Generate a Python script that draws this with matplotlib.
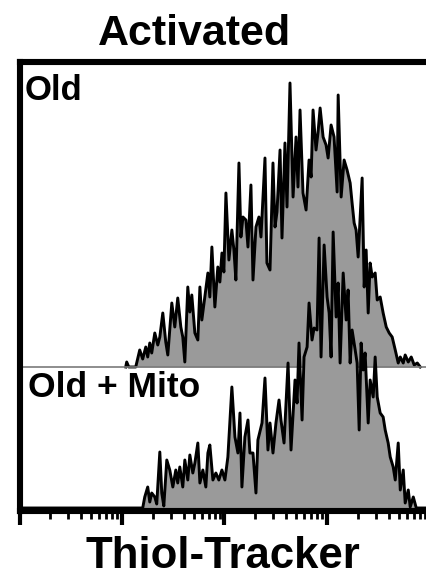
import numpy as np
import matplotlib
matplotlib.use("Agg")
import matplotlib.pyplot as plt
from matplotlib.ticker import LogLocator, NullFormatter

plt.rcParams['font.family'] = ['Liberation Sans', 'DejaVu Sans']

# Thiol-Tracker intensity (log10) and event counts, "Old" sample
old_log = [1.036, 1.046, 1.066, 1.134, 1.173, 1.202, 1.232, 1.251, 1.271, 1.290,
           1.320, 1.349, 1.369, 1.398, 1.427, 1.447, 1.486, 1.515, 1.544, 1.574,
           1.593, 1.613, 1.642, 1.662, 1.681, 1.711, 1.740, 1.760, 1.779, 1.808,
           1.838, 1.857, 1.877, 1.906, 1.935, 1.955, 1.975, 1.994, 2.014, 2.043,
           2.072, 2.092, 2.111, 2.141, 2.160, 2.180, 2.209, 2.229, 2.258, 2.278,
           2.307, 2.336, 2.356, 2.395, 2.414, 2.444, 2.473, 2.493, 2.512, 2.542,
           2.561, 2.590, 2.610, 2.639, 2.669, 2.698, 2.717, 2.737, 2.766, 2.796,
           2.825, 2.845, 2.864, 2.893, 2.913, 2.933, 2.962, 2.991, 3.011, 3.040,
           3.069, 3.099, 3.109, 3.138, 3.167, 3.196, 3.226, 3.245, 3.265, 3.284,
           3.304, 3.343, 3.363, 3.382, 3.402, 3.421, 3.441, 3.470, 3.490, 3.519,
           3.548, 3.578, 3.607, 3.636, 3.666, 3.695, 3.715, 3.744, 3.763, 3.793,
           3.822, 3.851, 3.881, 3.910]
old_counts = [0, 5, 0, 0, 17, 8, 20, 10, 24, 14,
              34, 22, 30, 54, 25, 12, 64, 40, 69, 40,
              30, 5, 80, 55, 72, 34, 27, 80, 47, 70,
              94, 70, 120, 60, 100, 85, 114, 95, 174, 107,
              137, 117, 87, 204, 130, 150, 147, 120, 182, 87,
              140, 150, 130, 209, 104, 97, 204, 140, 155, 217,
              129, 224, 160, 284, 170, 230, 180, 257, 174, 157,
              207, 190, 257, 217, 235, 259, 230, 222, 209, 242,
              230, 175, 272, 170, 207, 197, 184, 164, 144, 137,
              110, 189, 80, 117, 54, 104, 90, 94, 67, 70,
              54, 40, 34, 30, 17, 4, 10, 4, 12, 5,
              10, 2, 4, 0]

# "Old + Mito" sample
mito_log = [0.000, 1.202, 1.222, 1.251, 1.271, 1.290, 1.320, 1.339, 1.369, 1.388,
            1.408, 1.437, 1.466, 1.496, 1.525, 1.544, 1.564, 1.593, 1.613, 1.642,
            1.662, 1.691, 1.711, 1.740, 1.760, 1.789, 1.818, 1.838, 1.857, 1.887,
            1.916, 1.945, 1.975, 2.004, 2.033, 2.072, 2.102, 2.131, 2.151, 2.170,
            2.199, 2.229, 2.248, 2.278, 2.307, 2.326, 2.366, 2.395, 2.424, 2.444,
            2.473, 2.502, 2.532, 2.551, 2.581, 2.620, 2.649, 2.688, 2.708, 2.727,
            2.757, 2.776, 2.806, 2.825, 2.854, 2.874, 2.903, 2.923, 2.942, 2.972,
            3.001, 3.021, 3.040, 3.060, 3.089, 3.109, 3.128, 3.158, 3.187, 3.206,
            3.226, 3.245, 3.275, 3.294, 3.314, 3.333, 3.353, 3.372, 3.402, 3.421,
            3.451, 3.470, 3.490, 3.519, 3.548, 3.568, 3.597, 3.617, 3.646, 3.666,
            3.695, 3.715, 3.744, 3.763, 3.793, 3.812, 3.842, 3.871, 3.966]
mito_counts = [0, 0, 11, 21, 6, 15, 11, 4, 56, 15,
               2, 48, 38, 21, 38, 25, 41, 21, 48, 28,
               53, 35, 45, 65, 25, 38, 21, 55, 63, 28,
               35, 28, 38, 28, 51, 121, 71, 55, 95, 21,
               71, 88, 55, 55, 15, 68, 85, 130, 58, 85,
               55, 85, 108, 88, 65, 145, 58, 128, 105, 165,
               88, 151, 161, 205, 168, 180, 178, 270, 151, 263,
               211, 195, 151, 276, 191, 225, 145, 235, 188, 218,
               145, 178, 158, 145, 78, 165, 138, 155, 85, 128,
               111, 151, 111, 95, 91, 78, 65, 51, 41, 28,
               65, 18, 38, 5, 18, 1, 11, 0, 0]

sample_names = ["Old", "Old + Mito"]
title = "Activated"
xlabel = "Thiol-Tracker"

# vertical offset of the upper histogram in the stacked display
stack_offset = 141
x_range_log = (0.0, 3.966)

fill_grey = "#9a9a9a"

fig = plt.figure(figsize=(4.26, 5.78), dpi=100)
W, H = 426, 578
ax = fig.add_axes([19.5 / W, (H - 511) / H, (W - 19.5) / W, (511 - 62) / H])

ax.set_xscale("log")
ax.set_xlim(10 ** x_range_log[0], 10 ** x_range_log[1])
ax.set_ylim(-3, 446)

# upper histogram
xo = 10 ** np.array(old_log)
yo = stack_offset + np.array(old_counts)
ax.fill_between(xo, stack_offset, yo, color=fill_grey, lw=0, zorder=1)
ax.plot(xo, yo, color="black", lw=2.1, zorder=2)
ax.axhline(stack_offset, color="#7a7a7a", lw=1.2, zorder=3)

# lower histogram, drawn over the upper one
xm = 10 ** np.array(mito_log)
ym = np.array(mito_counts)
ax.fill_between(xm, 0, ym, color=fill_grey, lw=0, zorder=4, clip_on=False)
ax.plot(xm, ym, color="black", lw=2.1, zorder=5, clip_on=False)

# frame
ax.spines["right"].set_visible(False)
for side in ("left", "top", "bottom"):
    ax.spines[side].set_linewidth(4.4)
    ax.spines[side].set_zorder(6)
ax.set_yticks([])
ax.xaxis.set_major_locator(LogLocator(base=10, numticks=10))
ax.xaxis.set_minor_locator(LogLocator(base=10, subs=np.arange(2, 10), numticks=10))
ax.xaxis.set_major_formatter(NullFormatter())
ax.xaxis.set_minor_formatter(NullFormatter())
ax.tick_params(axis="x", which="major", direction="out", length=10, width=3.0,
               color="black")
ax.tick_params(axis="x", which="minor", direction="out", length=5.5, width=2.0,
               color="black")

# texts
fig.text(194 / W, 1 - 45 / H, title, ha="center", va="baseline",
         fontsize=31, fontweight="bold")
fig.text(222.5 / W, 1 - 568 / H, xlabel, ha="center", va="baseline",
         fontsize=31.5, fontweight="bold")
fig.text(25 / W, 1 - 99.5 / H, sample_names[0], ha="left", va="baseline",
         fontsize=25, fontweight="bold")
fig.text(28 / W, 1 - 397 / H, sample_names[1], ha="left", va="baseline",
         fontsize=25.5, fontweight="bold")

fig.savefig("out.png", dpi=100)
